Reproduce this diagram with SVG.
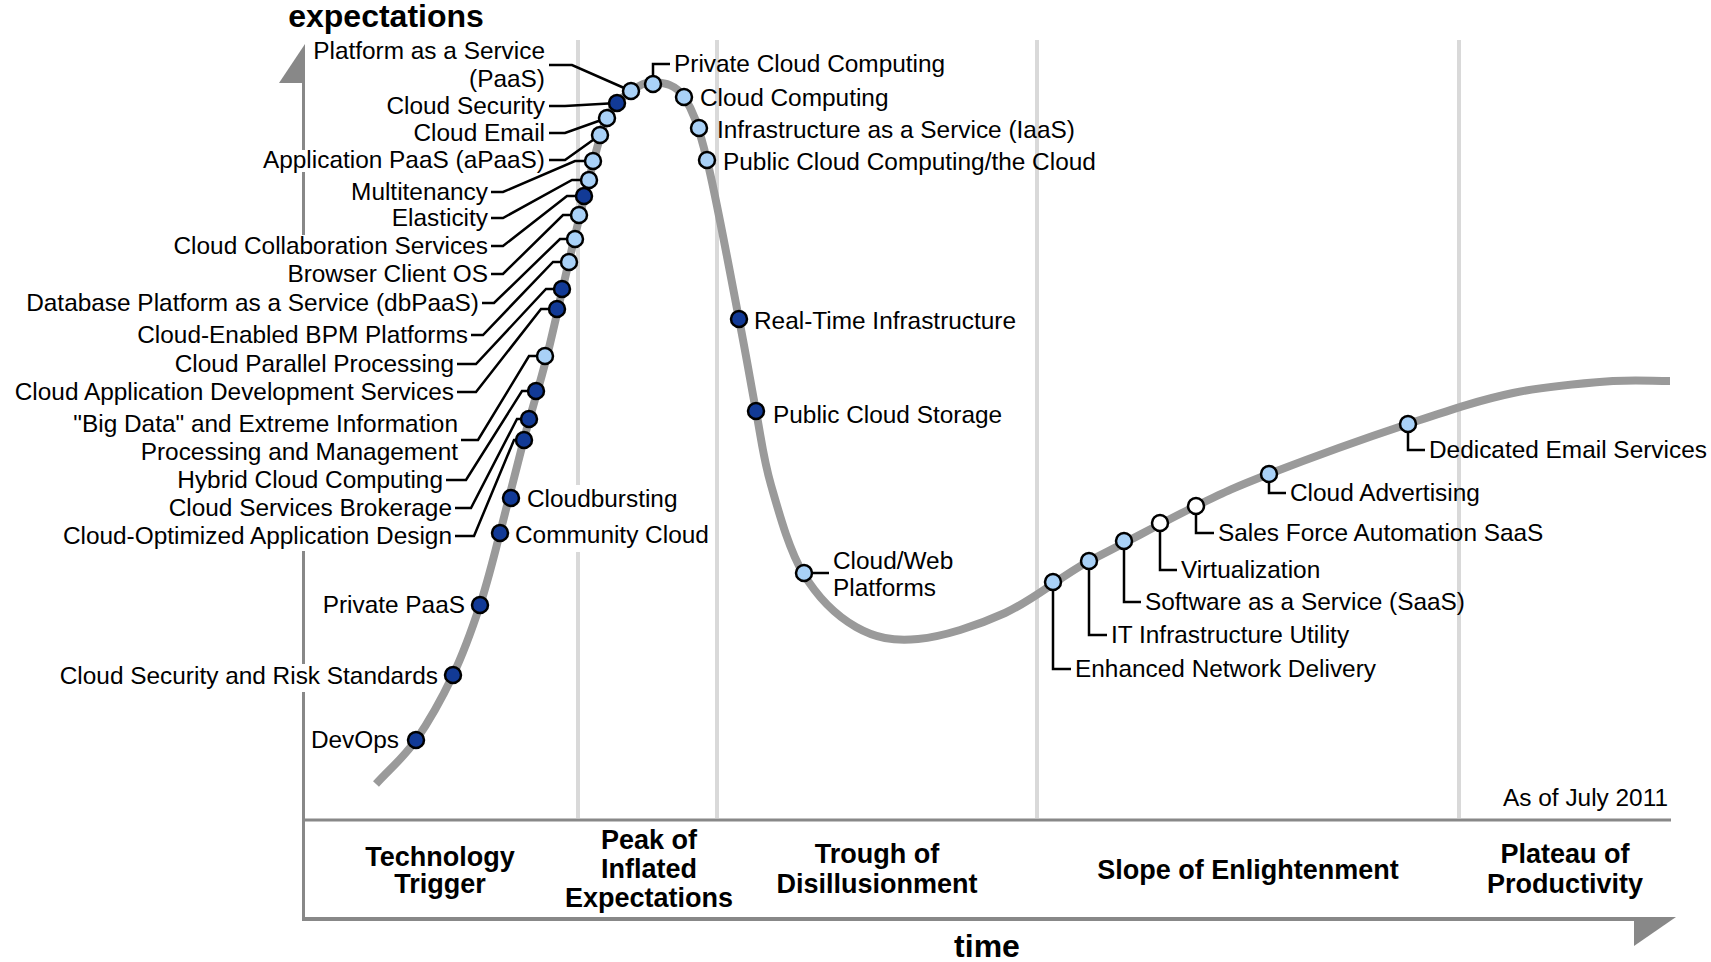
<svg xmlns="http://www.w3.org/2000/svg" width="1711" height="962" viewBox="0 0 1711 962">
<style>
text{font-family:"Liberation Sans",Arial,sans-serif;fill:#000}
.t{font-size:24.4px}
.e{text-anchor:end}
.b{font-size:27px;font-weight:bold;text-anchor:middle}
.ax{font-size:32px;font-weight:bold;text-anchor:middle}
.sep{stroke:#d9d9d9;stroke-width:4;fill:none}
.axl{stroke:#888;fill:none}
.ld{stroke:#000;stroke-width:2.5;fill:none;stroke-linejoin:miter}
.d{fill:#123a96;stroke:#000;stroke-width:2.5}
.l{fill:#a9d1f7;stroke:#000;stroke-width:2.5}
.w{fill:#fff;stroke:#000;stroke-width:2.5}
</style>
<rect width="1711" height="962" fill="#fff"/>
<g id="phases">
<line class="sep" x1="578" y1="40" x2="578" y2="485"/>
<line class="sep" x1="578" y1="552" x2="578" y2="818"/>
<line class="sep" x1="717" y1="40" x2="717" y2="818"/>
<line class="sep" x1="1037" y1="40" x2="1037" y2="818"/>
<line class="sep" x1="1459" y1="40" x2="1459" y2="818"/>
</g>
<g id="axes">
<polygon points="305,44 305,83 279,83" fill="#888"/>
<line class="axl" stroke-width="3" x1="303.5" y1="82" x2="303.5" y2="150"/>
<line class="axl" stroke-width="3" x1="303.5" y1="172" x2="303.5" y2="235"/>
<line class="axl" stroke-width="3" x1="303.5" y1="551" x2="303.5" y2="664"/>
<line class="axl" stroke-width="3" x1="303.5" y1="692" x2="303.5" y2="920"/>
<line class="axl" stroke-width="3" x1="302" y1="820" x2="1671" y2="820"/>
<line class="axl" stroke-width="4" x1="302" y1="919" x2="1636" y2="919"/>
<polygon points="1634,917 1676,917 1634,946" fill="#888"/>
<text class="ax" x="386" y="27">expectations</text>
<text class="ax" x="987" y="957">time</text>
<text class="t e" x="1668" y="806">As of July 2011</text>
<text class="b" x="440" y="866">Technology</text>
<text class="b" x="440" y="893">Trigger</text>
<text class="b" x="649" y="849">Peak of</text>
<text class="b" x="649" y="878">Inflated</text>
<text class="b" x="649" y="907">Expectations</text>
<text class="b" x="877" y="863">Trough of</text>
<text class="b" x="877" y="893">Disillusionment</text>
<text class="b" x="1248" y="879">Slope of Enlightenment</text>
<text class="b" x="1565" y="863">Plateau of</text>
<text class="b" x="1565" y="893">Productivity</text>
</g>
<g id="curve">
<path d="M376,784 C389.3,769.3 403.2,758.2 416,740 C428.8,721.8 442.3,697.5 453,675 C463.7,652.5 472.2,628.7 480,605 C487.8,581.3 492.7,560.7 500,533 C507.3,505.3 516.2,468.5 524,439 C531.8,409.5 539.5,385.7 547,356 C554.5,326.3 562,290.5 569,261 C576,231.5 582.7,202.8 589,179 C595.3,155.2 600,132.7 607,118 C614,103.3 623,97 631,91 C639,85 646.2,81 655,82 C663.8,83 675.3,84 684,97 C692.7,110 697.8,123 707,160 C716.2,197 730.8,277.2 739,319 C747.2,360.8 750.7,383.3 756,411 C761.3,438.7 763.2,458 771,485 C778.8,512 788.8,549.3 803,573 C817.2,596.7 836.8,616 856,627 C875.2,638 893.2,641.3 918,639 C942.8,636.7 976.5,626 1005,613 C1033.5,600 1057.2,578.8 1089,561 C1118.8,546.5 1166,520.5 1196,506 C1226,491.5 1233.7,487.7 1269,474 C1304.3,460.3 1367.3,437.5 1408,424 C1448.7,410.5 1478.8,400.2 1513,393 C1547.2,385.8 1586.8,383 1613,381 C1639,380 1651,381 1670,381" fill="none" stroke="#9a9a9a" stroke-width="8"/>
</g>
<g id="connectors">
<path class="ld" d="M549,65 H572 L631,91"/>
<path class="ld" d="M549,106 H565 L617,103"/>
<path class="ld" d="M549,133 H565 L607,118"/>
<path class="ld" d="M549,160 H565 L600,135"/>
<path class="ld" d="M491,192 H503 L575,161 H593"/>
<path class="ld" d="M491,218 H503 L572,180 H589"/>
<path class="ld" d="M491,246 H503 L567,196 H584"/>
<path class="ld" d="M491,274 H503 L563,215 H579"/>
<path class="ld" d="M482,303 H494 L560,239 H575"/>
<path class="ld" d="M471,335 H483 L553,262 H569"/>
<path class="ld" d="M457,364 H476 L546,289 H562"/>
<path class="ld" d="M457,392 H476 L541,309 H557"/>
<path class="ld" d="M461,440 H478 L529,356 H545"/>
<path class="ld" d="M446,480 H466 L522,391 H536"/>
<path class="ld" d="M455,508 H471 L517,419 H529"/>
<path class="ld" d="M455,536 H474 L514,440 H524"/>
<path class="ld" d="M653,84 V64 H670"/>
<path class="ld" d="M804,573 H829"/>
<path class="ld" d="M1053,582 V669 H1071"/>
<path class="ld" d="M1089,561 V635 H1107"/>
<path class="ld" d="M1124,541 V602 H1141"/>
<path class="ld" d="M1160,523 V570 H1177"/>
<path class="ld" d="M1196,506 V533 H1214"/>
<path class="ld" d="M1269,474 V493 H1286"/>
<path class="ld" d="M1408,424 V450 H1425"/>
</g>
<g id="n-paas"><circle class="l" cx="631" cy="91" r="8"/><text class="t e" x="545" y="59">Platform as a Service</text><text class="t e" x="545" y="87">(PaaS)</text></g>
<g id="n-cloud-security"><circle class="d" cx="617" cy="103" r="8"/><text class="t e" x="545" y="114">Cloud Security</text></g>
<g id="n-cloud-email"><circle class="l" cx="607" cy="118" r="8"/><text class="t e" x="545" y="141">Cloud Email</text></g>
<g id="n-apaas"><circle class="l" cx="600" cy="135" r="8"/><text class="t e" x="545" y="168">Application PaaS (aPaaS)</text></g>
<g id="n-multitenancy"><circle class="l" cx="593" cy="161" r="8"/><text class="t e" x="488" y="200">Multitenancy</text></g>
<g id="n-elasticity"><circle class="l" cx="589" cy="180" r="8"/><text class="t e" x="488" y="226">Elasticity</text></g>
<g id="n-collab"><circle class="d" cx="584" cy="196" r="8"/><text class="t e" x="488" y="254">Cloud Collaboration Services</text></g>
<g id="n-browser-os"><circle class="l" cx="579" cy="215" r="8"/><text class="t e" x="488" y="282">Browser Client OS</text></g>
<g id="n-dbpaas"><circle class="l" cx="575" cy="239" r="8"/><text class="t e" x="479" y="311">Database Platform as a Service (dbPaaS)</text></g>
<g id="n-bpm"><circle class="l" cx="569" cy="262" r="8"/><text class="t e" x="468" y="343">Cloud-Enabled BPM Platforms</text></g>
<g id="n-parallel"><circle class="d" cx="562" cy="289" r="8"/><text class="t e" x="454" y="372">Cloud Parallel Processing</text></g>
<g id="n-appdev"><circle class="d" cx="557" cy="309" r="8"/><text class="t e" x="454" y="400">Cloud Application Development Services</text></g>
<g id="n-bigdata"><circle class="l" cx="545" cy="356" r="8"/><text class="t e" x="458" y="432">"Big Data" and Extreme Information</text><text class="t e" x="458" y="460">Processing and Management</text></g>
<g id="n-hybrid"><circle class="d" cx="536" cy="391" r="8"/><text class="t e" x="443" y="488">Hybrid Cloud Computing</text></g>
<g id="n-brokerage"><circle class="d" cx="529" cy="419" r="8"/><text class="t e" x="452" y="516">Cloud Services Brokerage</text></g>
<g id="n-optimized"><circle class="d" cx="524" cy="440" r="8"/><text class="t e" x="452" y="544">Cloud-Optimized Application Design</text></g>
<g id="n-cloudbursting"><circle class="d" cx="511" cy="498" r="8"/><text class="t" x="527" y="507">Cloudbursting</text></g>
<g id="n-community"><circle class="d" cx="500" cy="533" r="8"/><text class="t" x="515" y="543">Community Cloud</text></g>
<g id="n-private-paas"><circle class="d" cx="480" cy="605" r="8"/><text class="t e" x="465" y="613">Private PaaS</text></g>
<g id="n-csrs"><circle class="d" cx="453" cy="675" r="8"/><text class="t e" x="438" y="684">Cloud Security and Risk Standards</text></g>
<g id="n-devops"><circle class="d" cx="416" cy="740" r="8"/><text class="t e" x="399" y="748">DevOps</text></g>
<g id="n-private-cloud"><circle class="l" cx="653" cy="84" r="8"/><text class="t" x="674" y="72">Private Cloud Computing</text></g>
<g id="n-cloud-computing"><circle class="l" cx="684" cy="97" r="8"/><text class="t" x="700" y="106">Cloud Computing</text></g>
<g id="n-iaas"><circle class="l" cx="699" cy="128" r="8"/><text class="t" x="717" y="138">Infrastructure as a Service (IaaS)</text></g>
<g id="n-public-cloud"><circle class="l" cx="707" cy="160" r="8"/><text class="t" x="723" y="170">Public Cloud Computing/the Cloud</text></g>
<g id="n-realtime"><circle class="d" cx="739" cy="319" r="8"/><text class="t" x="754" y="329">Real-Time Infrastructure</text></g>
<g id="n-storage"><circle class="d" cx="756" cy="411" r="8"/><text class="t" x="773" y="423">Public Cloud Storage</text></g>
<g id="n-cloudweb"><circle class="l" cx="804" cy="573" r="8"/><text class="t" x="833" y="569">Cloud/Web</text><text class="t" x="833" y="596">Platforms</text></g>
<g id="n-end"><circle class="l" cx="1053" cy="582" r="8"/><text class="t" x="1075" y="677">Enhanced Network Delivery</text></g>
<g id="n-itu"><circle class="l" cx="1089" cy="561" r="8"/><text class="t" x="1111" y="643">IT Infrastructure Utility</text></g>
<g id="n-saas"><circle class="l" cx="1124" cy="541" r="8"/><text class="t" x="1145" y="610">Software as a Service (SaaS)</text></g>
<g id="n-virtualization"><circle class="w" cx="1160" cy="523" r="8"/><text class="t" x="1181" y="578">Virtualization</text></g>
<g id="n-sfa"><circle class="w" cx="1196" cy="506" r="8"/><text class="t" x="1218" y="541">Sales Force Automation SaaS</text></g>
<g id="n-advertising"><circle class="l" cx="1269" cy="474" r="8"/><text class="t" x="1290" y="501">Cloud Advertising</text></g>
<g id="n-email-services"><circle class="l" cx="1408" cy="424" r="8"/><text class="t" x="1429" y="458">Dedicated Email Services</text></g>
</svg>
